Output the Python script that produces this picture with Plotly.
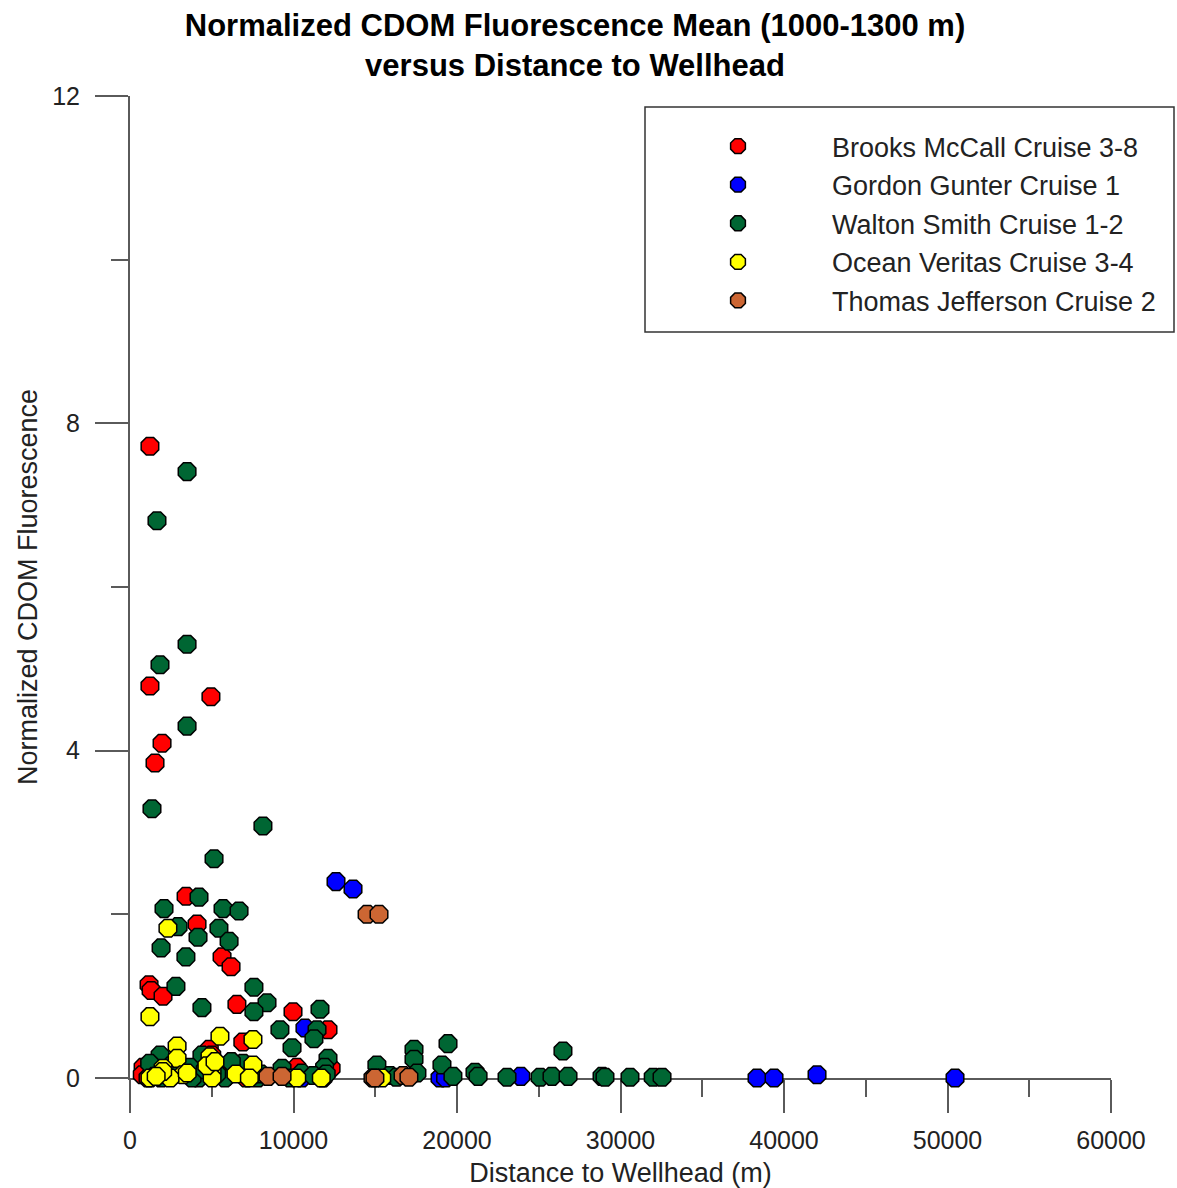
import plotly.graph_objects as go

series_names = ["Brooks McCall Cruise 3-8", "Gordon Gunter Cruise 1", "Walton Smith Cruise 1-2",
                "Ocean Veritas Cruise 3-4", "Thomas Jefferson Cruise 2"]
series_colors = ["#FF0000", "#0000FF", "#006633", "#FFFF00", "#CC6633"]

red_x = [1220, 1220, 4950, 1960, 1530, 3430, 4100, 5630, 6180, 1165, 1290, 2020, 6540, 9970, 12110,
         6900, 4850, 800, 750, 1100, 3700, 5900, 7100, 10200, 12300, 11900, 5000, 2400]
red_y = [7.72, 4.79, 4.66, 4.09, 3.85, 2.22, 1.88, 1.48, 1.36, 1.14, 1.07, 1.00, 0.90, 0.81, 0.59,
         0.44, 0.35, 0.13, 0.04, 0.0, 0.08, 0.02, 0.0, 0.13, 0.12, 0.04, 0.28, 0.05]

blue_x = [12600, 13640, 10700, 10500, 11800, 18960, 23900, 38350, 39390, 42020, 50460, 19300]
blue_y = [2.40, 2.31, 0.61, 0.0, 0.0, 0.0, 0.02, 0.0, 0.0, 0.04, 0.0, 0.0]

green_x = [3490, 1650, 3490, 1835, 3490, 1345, 8130, 5140, 4220, 2080, 5690, 6670, 2940, 4160, 5440,
           6060, 1900, 3420, 2810, 7580, 8380, 7580, 4400, 11620, 9170, 11440, 11250, 9910, 12110,
           1840, 1200, 4400, 3670, 6910, 9300, 11900, 12000, 2500, 3000, 4200, 1500, 5800, 6200,
           7800, 8000, 9800, 10500, 11200, 1900, 2700, 3800, 5300, 4600,
           15100, 17370, 17370, 17550, 15900, 16300, 19450, 19080, 19750, 21100, 21290, 23060,
           25080, 25810, 26480, 26790, 28870, 29050, 30580, 32000, 32540]
green_y = [7.41, 6.81, 5.30, 5.05, 4.30, 3.29, 3.08, 2.68, 2.21, 2.07, 2.07, 2.04, 1.85, 1.72, 1.83,
           1.67, 1.59, 1.48, 1.12, 1.11, 0.92, 0.81, 0.86, 0.84, 0.59, 0.59, 0.48, 0.37, 0.24,
           0.28, 0.18, 0.28, 0.13, 0.18, 0.12, 0.13, 0.05, 0.15, 0.05, 0.0, 0.02, 0.0, 0.20,
           0.0, 0.05, 0.0, 0.06, 0.03, 0.0, 0.10, 0.0, 0.05, 0.10,
           0.16, 0.35, 0.23, 0.06, 0.03, 0.01, 0.42, 0.16, 0.02, 0.07, 0.02, 0.01,
           0.01, 0.02, 0.33, 0.02, 0.02, 0.01, 0.01, 0.01, 0.01]

yellow_x = [2320, 1220, 5500, 7520, 2880, 2880, 4890, 7520, 2020, 5020, 1220, 3240, 2450, 5020, 6480,
            10200, 11700, 15400, 4700, 2000, 1600, 7300, 5200, 3500]
yellow_y = [1.83, 0.75, 0.51, 0.47, 0.39, 0.24, 0.26, 0.16, 0.12, 0.10, 0.0, 0.04, 0.0, 0.0, 0.05,
            0.0, 0.0, 0.0, 0.15, 0.08, 0.02, 0.0, 0.20, 0.06]

orange_x = [14500, 15230, 8440, 9300, 14860, 14980, 16700, 17060]
orange_y = [2.0, 2.0, 0.02, 0.02, 0.0, 0.0, 0.03, 0.01]

x_ticks = [0, 10000, 20000, 30000, 40000, 50000, 60000]
y_ticks = [0, 4, 8, 12]

all_x = [red_x, blue_x, green_x, yellow_x, orange_x]
all_y = [red_y, blue_y, green_y, yellow_y, orange_y]

FONT = "Liberation Sans, Arial, sans-serif"

fig = go.Figure()
for name, color, xs, ys in zip(series_names, series_colors, all_x, all_y):
    fig.add_trace(go.Scatter(
        x=xs, y=ys, mode="markers", name=name, cliponaxis=False,
        legendgroup=name,
        marker=dict(symbol="octagon", size=19, color=color,
                    line=dict(color="black", width=1.5)),
    ))

axis_color = "#5a5a5a"
fig.update_layout(
    width=1177, height=1188, autosize=False,
    paper_bgcolor="white", plot_bgcolor="white",
    margin=dict(l=130, r=66, t=96, b=110),
    font=dict(family=FONT, size=25, color="#222222"),
    title=dict(
        text="<b>Normalized CDOM Fluorescence Mean (1000-1300 m)<br>versus Distance to Wellhead</b>",
        x=575 / 1177, xanchor="center", xref="container",
        y=1 - 36 / 1188, yanchor="top", yref="container",
        font=dict(family=FONT, size=31, color="black"),
    ),
    xaxis=dict(
        range=[0, 60000], tickvals=x_ticks, ticktext=[str(v) for v in x_ticks],
        showgrid=False, zeroline=False, showline=True, linecolor=axis_color, linewidth=2,
        ticks="outside", ticklen=33, tickwidth=2, tickcolor=axis_color,
        ticklabelstandoff=6, layer="below traces", automargin=False,
        minor=dict(dtick=5000, tick0=0, ticks="outside", ticklen=17, tickwidth=2,
                   tickcolor=axis_color, showgrid=False),
        title=dict(text="Distance to Wellhead (m)", standoff=11,
                   font=dict(family=FONT, size=27, color="#222222")),
    ),
    yaxis=dict(
        range=[0, 12], tickvals=y_ticks, ticktext=[str(v) for v in y_ticks],
        showgrid=False, zeroline=False, showline=True, linecolor=axis_color, linewidth=2,
        ticks="outside", ticklen=33, tickwidth=2, tickcolor=axis_color,
        ticklabelstandoff=10, layer="below traces", automargin=False,
        minor=dict(dtick=2, tick0=0, ticks="outside", ticklen=17, tickwidth=2,
                   tickcolor=axis_color, showgrid=False),
        title=dict(text="Normalized CDOM Fluorescence", standoff=7,
                   font=dict(family=FONT, size=27, color="#222222")),
    ),
    legend=dict(
        x=(644 - 130) / 981, y=(1078 - 122) / 982, xanchor="left", yanchor="top",
        bgcolor="rgba(0,0,0,0)", borderwidth=0,
        font=dict(family=FONT, size=27, color="#222222"),
        itemwidth=178, itemsizing="trace", tracegroupgap=0.5,
    ),
    shapes=[dict(type="rect", xref="paper", yref="paper",
                 x0=(645 - 130) / 981, x1=(1174 - 130) / 981,
                 y0=(1078 - 332) / 982, y1=(1078 - 107) / 982,
                 line=dict(color="#333333", width=1.5), fillcolor="white", layer="below")],
)

fig.write_html("out.html", config={"displayModeBar": False},
               post_script="document.body.style.margin='0';document.body.style.padding='0';"
                           "document.body.style.overflow='hidden';")
